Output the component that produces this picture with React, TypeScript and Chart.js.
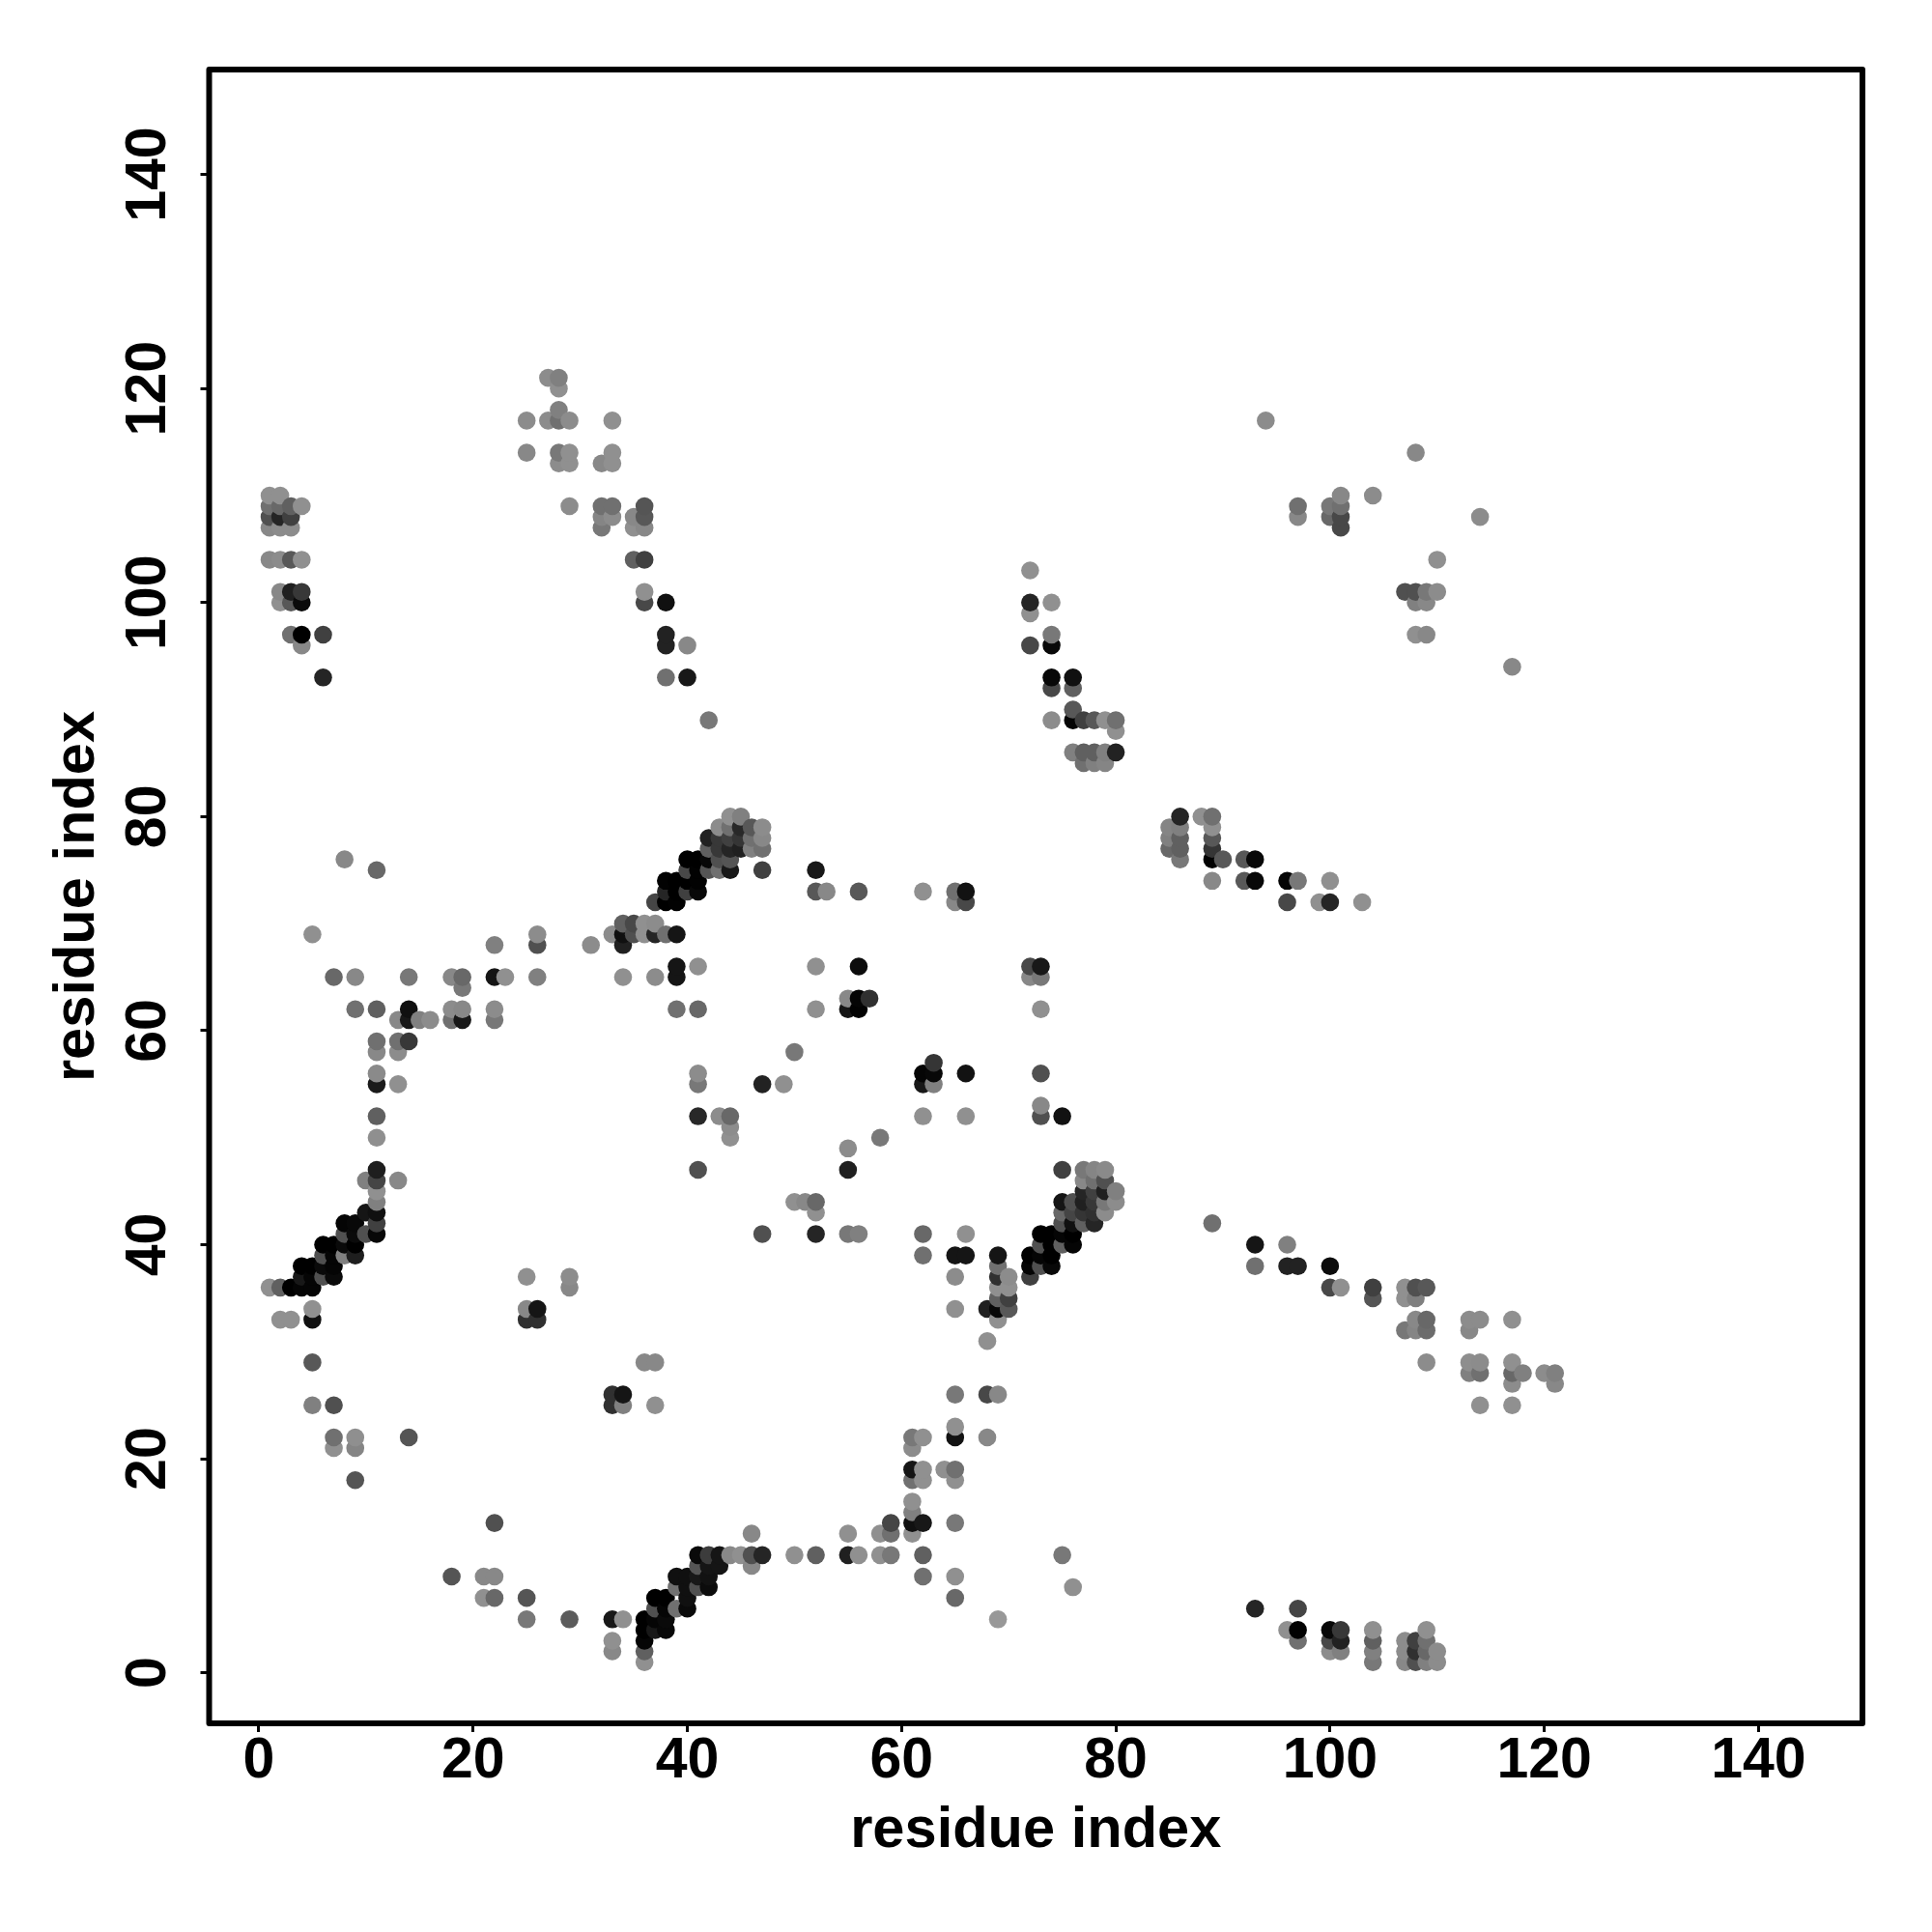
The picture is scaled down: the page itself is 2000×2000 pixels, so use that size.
import React, { useEffect, useRef } from "react";
import { Chart, registerables } from "chart.js";

Chart.register(...registerables);

const xAxisTitle = "residue index";
const yAxisTitle = "residue index";

// One entry per residue on the x axis: the partner residues and the grey level of each contact.
const residueX = [
  1, 2, 3, 4, 5, 6, 7, 8, 9, 10, 11, 13, 14, 15, 16, 18, 19, 21, 22, 23, 25, 26, 27, 28, 29, 31, 32, 33, 34, 35, 36, 37,
  38, 39, 40, 41, 42, 43, 44, 45, 46, 47, 49, 50, 51, 52, 53, 55, 56, 57, 58, 59, 61, 62, 63, 64, 65, 66, 68, 69, 70,
  72, 73, 74, 75, 76, 77, 78, 79, 80, 85, 86, 88, 89, 90, 92, 93, 94, 96, 97, 99, 100, 101, 103, 104, 107, 108, 109,
  110, 113, 114, 117, 118, 120, 121,
];

const residueY = [
  [36, 104, 107, 108, 109, 110],
  [33, 36, 100, 101, 104, 107, 108, 109, 110],
  [33, 36, 97, 100, 101, 104, 107, 108, 109],
  [36, 37, 38, 96, 97, 100, 101, 104, 109],
  [25, 29, 33, 34, 36, 37, 38, 69],
  [37, 38, 39, 40, 93, 97],
  [21, 22, 25, 37, 38, 39, 40, 65],
  [39, 40, 41, 42, 76],
  [18, 21, 22, 39, 40, 41, 42, 62, 65],
  [41, 43, 46],
  [41, 42, 43, 44, 45, 46, 47, 50, 52, 55, 56, 58, 59, 62, 75],
  [46, 55, 58, 59, 61],
  [22, 59, 61, 62, 65],
  [61],
  [61],
  [9, 61, 62, 65],
  [61, 62, 64, 65],
  [7, 9],
  [7, 9, 14, 61, 62, 65, 68],
  [65],
  [5, 7, 33, 34, 37, 114, 117],
  [33, 34, 65, 68, 69],
  [117, 121],
  [113, 114, 117, 118, 120, 121],
  [5, 36, 37, 109, 113, 114, 117],
  [68],
  [107, 108, 109, 113],
  [2, 3, 5, 25, 26, 69, 108, 109, 113, 114, 117],
  [5, 25, 26, 65, 68, 69, 70],
  [69, 70, 104, 107, 108],
  [1, 2, 3, 4, 5, 29, 69, 70, 100, 101, 104, 107, 108, 109],
  [4, 5, 6, 7, 25, 29, 65, 69, 70, 72],
  [4, 5, 6, 7, 69, 72, 73, 74, 93, 96, 97, 100],
  [6, 8, 9, 62, 65, 66, 69, 72, 73, 74],
  [6, 7, 8, 9, 73, 74, 75, 76, 93, 96],
  [8, 9, 10, 11, 47, 52, 55, 56, 62, 66, 73, 74, 75, 76],
  [8, 9, 10, 11, 75, 76, 77, 78, 89],
  [10, 11, 52, 75, 76, 77, 78, 79],
  [11, 50, 51, 52, 75, 76, 77, 78, 79, 80],
  [11, 77, 78, 79, 80],
  [10, 11, 13, 77, 78, 79],
  [11, 41, 55, 75, 77, 78, 79],
  [55],
  [11, 44, 58],
  [44],
  [11, 41, 43, 44, 62, 66, 73, 75],
  [73],
  [11, 13, 41, 47, 49, 62, 63],
  [11, 41, 62, 63, 66, 73],
  [63],
  [11, 13, 50],
  [11, 13, 14],
  [13, 14, 15, 16, 18, 19, 21, 22],
  [9, 11, 14, 18, 19, 22, 39, 41, 52, 55, 56, 73],
  [55, 56, 57],
  [19],
  [7, 9, 14, 18, 19, 22, 23, 26, 34, 37, 39, 72, 73],
  [39, 41, 52, 56, 72, 73],
  [22, 26, 31, 34],
  [5, 26, 33, 34, 35, 36, 37, 38, 39],
  [34, 35, 36, 37],
  [37, 38, 39, 65, 66, 96, 99, 100, 103],
  [38, 39, 40, 41, 52, 53, 56, 62, 65, 66],
  [38, 39, 40, 41, 89, 92, 93, 96, 97, 100],
  [11, 40, 41, 42, 43, 44, 47, 52],
  [8, 40, 41, 42, 43, 44, 86, 89, 90, 92, 93],
  [42, 43, 44, 45, 46, 47, 85, 86, 89],
  [42, 43, 44, 45, 46, 47, 85, 86, 89],
  [43, 44, 45, 46, 47, 85, 86, 89],
  [44, 45, 86, 88, 89],
  [77, 78, 79],
  [76, 77, 78, 79, 80],
  [80],
  [42, 74, 76, 77, 78, 79, 80],
  [76],
  [74, 76],
  [6, 38, 40, 74, 76],
  [117],
  [4, 38, 40, 72, 74],
  [3, 4, 6, 38, 74, 108, 109],
  [72],
  [2, 3, 4, 36, 38, 72, 74, 108, 109],
  [2, 3, 4, 36, 107, 108, 109, 110],
  [72],
  [1, 2, 3, 4, 35, 36, 110],
  [1, 2, 3, 32, 35, 36, 101],
  [1, 2, 3, 32, 33, 35, 36, 97, 100, 101, 114],
  [1, 2, 3, 4, 29, 32, 33, 36, 97, 100, 101],
  [1, 2, 101, 104],
  [28, 29, 32, 33],
  [25, 28, 29, 33, 108],
  [25, 27, 28, 29, 33, 94],
  [28],
  [28],
  [27, 28],
];

const shade = [
  [0x90, 0x88, 0x88, 0x50, 0x70, 0x90],
  [0x90, 0x60, 0x90, 0x88, 0x8c, 0x8c, 0x25, 0x68, 0x90],
  [0x90, 0x00, 0x70, 0x58, 0x20, 0x58, 0x8c, 0x40, 0x60],
  [0x05, 0x18, 0x00, 0x88, 0x00, 0x0a, 0x38, 0x90, 0x90],
  [0x80, 0x58, 0x10, 0x90, 0x05, 0x05, 0x00, 0x90],
  [0x50, 0x0a, 0x50, 0x00, 0x25, 0x40],
  [0x90, 0x70, 0x50, 0x0a, 0x05, 0x05, 0x00, 0x68],
  [0x80, 0x0a, 0x50, 0x05, 0x88],
  [0x55, 0x85, 0x8f, 0x1e, 0x00, 0x0a, 0x08, 0x70, 0x88],
  [0x50, 0x15, 0x80],
  [0x08, 0x40, 0x10, 0x80, 0x90, 0x45, 0x1e, 0x8f, 0x60, 0x1a, 0x8a, 0x88, 0x70, 0x60, 0x68],
  [0x88, 0x90, 0x8c, 0x70, 0x88],
  [0x55, 0x38, 0x18, 0x10, 0x78],
  [0x80],
  [0x8c],
  [0x55, 0x70, 0x8c, 0x88],
  [0x18, 0x88, 0x78, 0x68],
  [0x90, 0x88],
  [0x68, 0x88, 0x50, 0x78, 0x8c, 0x15, 0x80],
  [0x90],
  [0x78, 0x55, 0x30, 0x88, 0x90, 0x88, 0x8c],
  [0x30, 0x15, 0x80, 0x50, 0x8c],
  [0x8c, 0x8c],
  [0x8c, 0x78, 0x70, 0x80, 0x90, 0x80],
  [0x5c, 0x88, 0x8c, 0x8c, 0x90, 0x90, 0x8c],
  [0x8c],
  [0x78, 0x85, 0x70, 0x88],
  [0x88, 0x90, 0x18, 0x30, 0x30, 0x8c, 0x8c, 0x70, 0x90, 0x90, 0x90],
  [0x90, 0x80, 0x15, 0x90, 0x20, 0x10, 0x60],
  [0x50, 0x48, 0x60, 0x90, 0x88],
  [0x90, 0x60, 0x05, 0x00, 0x00, 0x88, 0x90, 0x90, 0x48, 0x90, 0x40, 0x88, 0x58, 0x55],
  [0x18, 0x05, 0x50, 0x00, 0x90, 0x88, 0x8c, 0x25, 0x8c, 0x45],
  [0x08, 0x0a, 0x05, 0x00, 0x70, 0x00, 0x25, 0x02, 0x70, 0x22, 0x22, 0x10],
  [0x70, 0x70, 0x10, 0x70, 0x15, 0x15, 0x15, 0x02, 0x00, 0x00],
  [0x0a, 0x10, 0x10, 0x10, 0x40, 0x00, 0x48, 0x00, 0x18, 0x88],
  [0x50, 0x18, 0x55, 0x0a, 0x50, 0x28, 0x78, 0x8c, 0x68, 0x90, 0x08, 0x02, 0x02, 0x00],
  [0x0c, 0x12, 0x15, 0x3c, 0x55, 0x08, 0x60, 0x22, 0x78],
  [0x15, 0x15, 0x8c, 0x70, 0x50, 0x38, 0x38, 0x8c],
  [0x88, 0x90, 0x8c, 0x68, 0x18, 0x55, 0x25, 0x40, 0x70, 0x90],
  [0x90, 0x20, 0x35, 0x28, 0x80],
  [0x88, 0x50, 0x88, 0x80, 0x70, 0x58],
  [0x25, 0x50, 0x22, 0x40, 0x70, 0x88, 0x8c],
  [0x90],
  [0x90, 0x90, 0x78],
  [0x88],
  [0x60, 0x25, 0x90, 0x68, 0x90, 0x90, 0x58, 0x18],
  [0x88],
  [0x20, 0x90, 0x78, 0x20, 0x8c, 0x15, 0x88],
  [0x90, 0x80, 0x02, 0x05, 0x0c, 0x58],
  [0x30],
  [0x90, 0x90, 0x78],
  [0x78, 0x70, 0x45],
  [0x90, 0x10, 0x80, 0x90, 0x70, 0x15, 0x8c, 0x78],
  [0x70, 0x60, 0x18, 0x90, 0x90, 0x90, 0x70, 0x68, 0x90, 0x18, 0x05, 0x90],
  [0x80, 0x08, 0x35],
  [0x90],
  [0x68, 0x90, 0x78, 0x90, 0x70, 0x12, 0x90, 0x78, 0x90, 0x8c, 0x15, 0x88, 0x70],
  [0x15, 0x90, 0x90, 0x12, 0x48, 0x12],
  [0x88, 0x48, 0x90, 0x20],
  [0x98, 0x88, 0x90, 0x08, 0x60, 0x90, 0x30, 0x70, 0x15],
  [0x58, 0x40, 0x90, 0x8c],
  [0x40, 0x05, 0x00, 0x88, 0x48, 0x48, 0x90, 0x25, 0x90],
  [0x50, 0x05, 0x50, 0x00, 0x50, 0x88, 0x50, 0x90, 0x78, 0x18],
  [0x08, 0x00, 0x00, 0x00, 0x8c, 0x48, 0x08, 0x08, 0x78, 0x90],
  [0x78, 0x60, 0x05, 0x50, 0x68, 0x15, 0x40, 0x12],
  [0x90, 0x05, 0x00, 0x10, 0x45, 0x50, 0x80, 0x05, 0x58, 0x60, 0x10],
  [0x60, 0x35, 0x20, 0x25, 0x88, 0x78, 0x70, 0x60, 0x40],
  [0x25, 0x30, 0x38, 0x40, 0x70, 0x85, 0x80, 0x60, 0x58],
  [0x8c, 0x78, 0x20, 0x50, 0x8a, 0x85, 0x80, 0x90],
  [0x8c, 0x80, 0x22, 0x90, 0x70],
  [0x68, 0x80, 0x85],
  [0x78, 0x60, 0x60, 0x80, 0x25],
  [0x90],
  [0x70, 0x88, 0x02, 0x35, 0x58, 0x90, 0x70],
  [0x58],
  [0x58, 0x58],
  [0x25, 0x70, 0x15, 0x08, 0x08],
  [0x8c],
  [0x90, 0x22, 0x80, 0x48, 0x05],
  [0x70, 0x02, 0x45, 0x22, 0x78, 0x88, 0x70],
  [0x90],
  [0x8c, 0x48, 0x08, 0x48, 0x0c, 0x25, 0x90, 0x68, 0x78],
  [0x80, 0x22, 0x38, 0x90, 0x48, 0x48, 0x70, 0x88],
  [0x90],
  [0x78, 0x80, 0x60, 0x90, 0x55, 0x40, 0x8c],
  [0x88, 0x8c, 0x8c, 0x78, 0x90, 0x90, 0x50],
  [0x50, 0x30, 0x40, 0x85, 0x88, 0x80, 0x50, 0x90, 0x80, 0x50, 0x88],
  [0x80, 0x68, 0x70, 0x90, 0x8c, 0x6c, 0x68, 0x58, 0x88, 0x88, 0x78],
  [0x8c, 0x8c, 0x8c, 0x90],
  [0x80, 0x8e, 0x88, 0x8c],
  [0x90, 0x70, 0x8c, 0x8c, 0x8c],
  [0x90, 0x8c, 0x68, 0x90, 0x90, 0x88],
  [0x80],
  [0x8c],
  [0x88, 0x80],
];

const points = residueX
  .flatMap((x, i) => residueY[i].map((y, j) => ({ x, y, level: shade[i][j] })))
  .sort((a, b) => a.x - b.x || a.y - b.y);

const FONT = '"Liberation Sans", Arial, sans-serif';
const FONT_SIZE = 59;
const TITLE_SIZE = 59.6;

const framePlugin = {
  id: "frameAndRotatedTicks",
  afterDraw(chart: any) {
    const { ctx, chartArea, scales } = chart;
    ctx.save();
    ctx.strokeStyle = "#000";
    ctx.lineWidth = 6;
    ctx.lineJoin = "round";
    ctx.strokeRect(chartArea.left, chartArea.top, chartArea.right - chartArea.left, chartArea.bottom - chartArea.top);
    ctx.fillStyle = "#000";
    ctx.font = `bold ${FONT_SIZE}px ${FONT}`;
    ctx.textAlign = "center";
    ctx.textBaseline = "alphabetic";
    for (const tick of scales.y.ticks) {
      ctx.save();
      ctx.translate(171, scales.y.getPixelForValue(tick.value));
      ctx.rotate(-Math.PI / 2);
      ctx.fillText(String(tick.value), 0, 0);
      ctx.restore();
    }
    ctx.restore();
  },
};

export default function App() {
  const ref = useRef<HTMLCanvasElement>(null);
  useEffect(() => {
    document.body.style.margin = "0";
    const chart = new Chart(ref.current!, {
      type: "scatter",
      data: {
        datasets: [
          {
            data: points.map((p) => ({ x: p.x, y: p.y })),
            pointBackgroundColor: points.map((p) => `rgb(${p.level},${p.level},${p.level})`),
            pointBorderWidth: 0,
            pointRadius: 9.3,
            showLine: false,
          },
        ],
      },
      options: {
        animation: false,
        responsive: false,
        layout: { padding: { left: 0, top: 72, right: 72, bottom: 0 } },
        plugins: { legend: { display: false }, tooltip: { enabled: false } },
        scales: {
          x: {
            type: "linear",
            min: -4.64,
            max: 149.7,
            afterFit: (s: any) => {
              s.height = 216;
            },
            border: { display: false },
            grid: { drawOnChartArea: false, drawTicks: true, tickLength: 9, tickWidth: 3, tickColor: "#000" },
            ticks: {
              stepSize: 20,
              includeBounds: false,
              maxRotation: 0,
              minRotation: 0,
              autoSkip: false,
              color: "#000",
              padding: -5,
              font: { family: FONT, size: FONT_SIZE, weight: "bold" },
            },
            title: {
              display: true,
              text: xAxisTitle,
              color: "#000",
              font: { family: FONT, size: TITLE_SIZE, weight: "bold" },
              padding: { top: 0, bottom: 69 },
            },
          },
          y: {
            type: "linear",
            min: -4.72,
            max: 149.8,
            afterFit: (s: any) => {
              s.width = 216.5;
            },
            border: { display: false },
            grid: { drawOnChartArea: false, drawTicks: true, tickLength: 9, tickWidth: 3, tickColor: "#000" },
            ticks: { stepSize: 20, includeBounds: false, display: false },
            title: {
              display: true,
              text: yAxisTitle,
              color: "#000",
              font: { family: FONT, size: TITLE_SIZE, weight: "bold" },
              padding: { top: 45, bottom: 0 },
            },
          },
        },
      },
      plugins: [framePlugin],
    } as any);
    return () => chart.destroy();
  }, []);
  return <canvas ref={ref} width={2000} height={2000} style={{ display: "block" }} />;
}
